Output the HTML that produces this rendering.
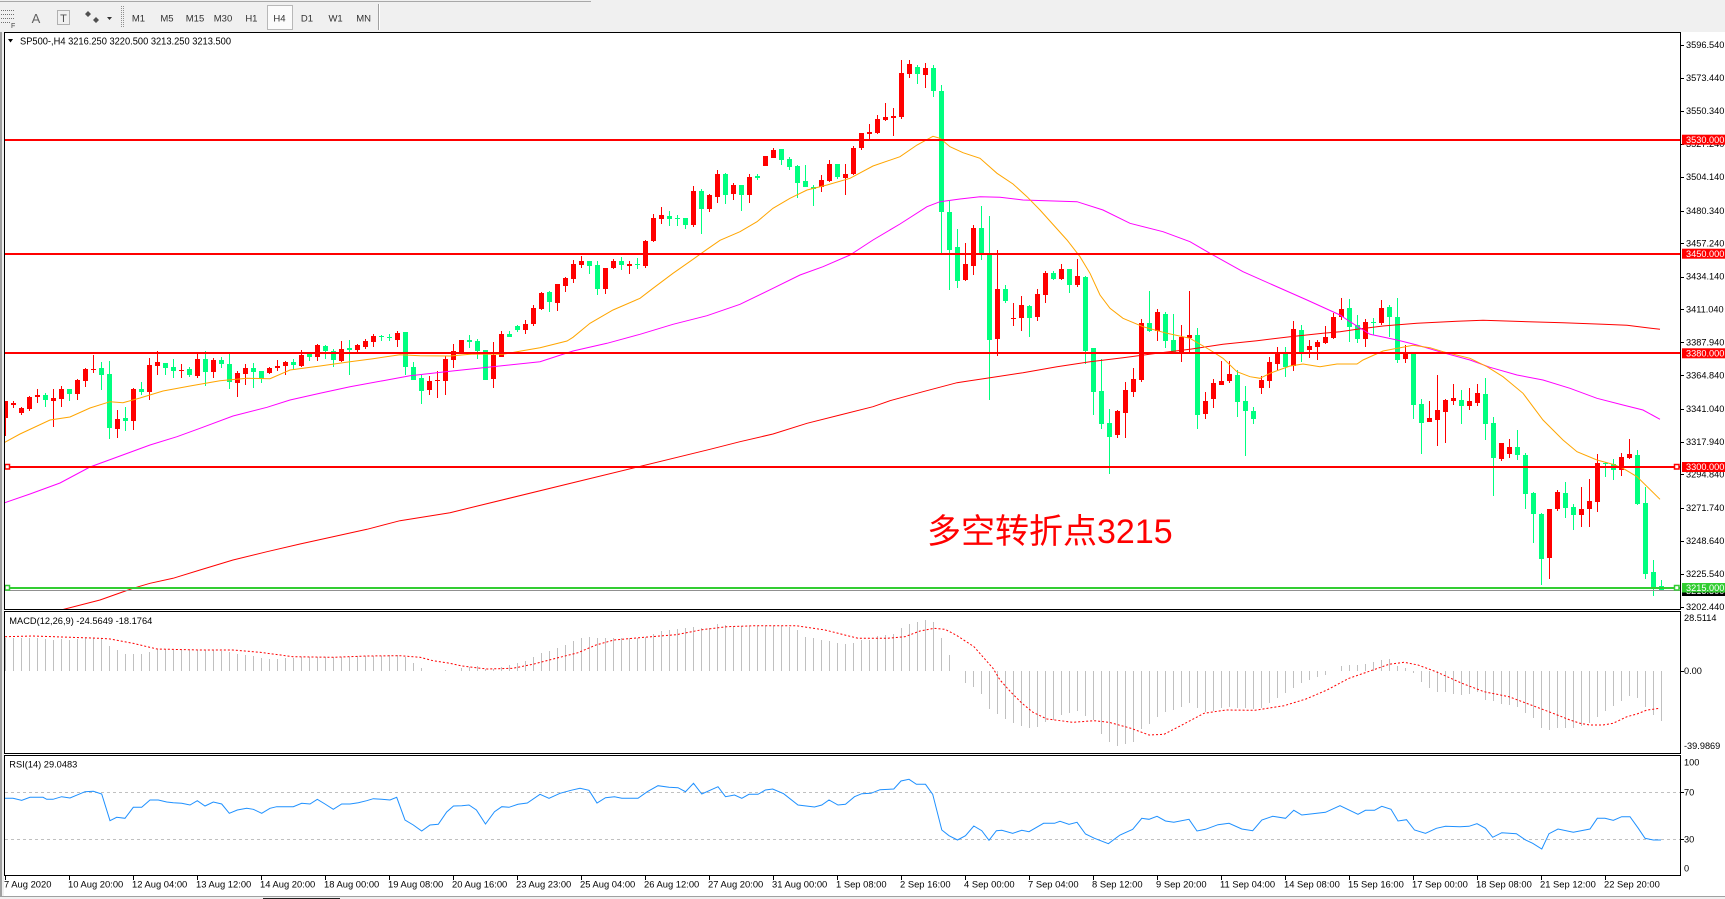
<!DOCTYPE html>
<html><head><meta charset="utf-8">
<style>
html,body{margin:0;padding:0;background:#fff;overflow:hidden;}
svg{display:block;}
text{font-family:"Liberation Sans","Noto Sans CJK SC",sans-serif;}
</style></head>
<body>
<svg id="s" width="1725" height="899" viewBox="0 0 1725 899" xmlns="http://www.w3.org/2000/svg">
<defs>
<clipPath id="cm"><rect x="5" y="33" width="1675" height="576"/></clipPath>
<clipPath id="cd"><rect x="5" y="612" width="1675" height="141"/></clipPath>
<clipPath id="cr"><rect x="5" y="756" width="1675" height="119"/></clipPath>
</defs>
<rect width="1725" height="899" fill="#fff"/>
<!-- toolbar -->
<rect x="0" y="0" width="1725" height="32" fill="#f0f0f0"/>
<line x1="0" y1="1.5" x2="591" y2="1.5" stroke="#a8a8a8"/>
<g stroke="#707070" stroke-dasharray="1 1">
<line x1="1" y1="10.5" x2="14" y2="10.5"/><line x1="1" y1="14.5" x2="14" y2="14.5"/>
<line x1="1" y1="18.5" x2="14" y2="18.5"/><line x1="1" y1="22.5" x2="10" y2="22.5"/>
</g>
<text x="11" y="28" font-size="7" fill="#444">F</text>
<text x="36" y="23" font-size="13" fill="#606060" text-anchor="middle">A</text>
<rect x="57.5" y="10.5" width="12" height="14" fill="none" stroke="#707070" stroke-dasharray="1 1"/>
<text x="63.5" y="22" font-size="11" fill="#505050" text-anchor="middle">T</text>
<path d="M88 11l3 3-3 3-3-3z M96 17l3 3-3 3-3-3z" fill="#505050"/>
<path d="M107 17h5l-2.5 3z" fill="#333"/>
<g stroke="#909090" stroke-dasharray="1 1"><line x1="121.5" y1="6" x2="121.5" y2="28"/><line x1="123.5" y1="6" x2="123.5" y2="28"/></g>
<rect x="267.5" y="5.5" width="25" height="24" fill="#fbfbfb" stroke="#b8b8b8"/>
<g font-size="9.5" fill="#303030" text-anchor="middle">
<text x="138.5" y="21.5">M1</text><text x="167" y="21.5">M5</text><text x="195" y="21.5">M15</text>
<text x="223" y="21.5">M30</text><text x="251.4" y="21.5">H1</text><text x="279.5" y="21.5">H4</text>
<text x="307" y="21.5">D1</text><text x="335.6" y="21.5">W1</text><text x="363.6" y="21.5">MN</text>
</g>
<line x1="378.5" y1="4" x2="378.5" y2="30" stroke="#a0a0a0"/>
<line x1="379.5" y1="4" x2="379.5" y2="30" stroke="#fff"/>
<!-- left frame -->
<rect x="0" y="32" width="2" height="867" fill="#a0a0a0"/>
<rect x="2" y="32" width="2" height="867" fill="#f0f0f0"/>

<!-- main panel content -->
<g id="candles" clip-path="url(#cm)"></g>
<g clip-path="url(#cm)" fill="none" stroke-width="1">
<polyline stroke="#ff0000" points="63,609.5 100,600 133,588.3 150,583.3 173,578.3 200,570 233,560 267,551.7 300,544 333,536.7 367,529.3 400,520.7 450,512.7 580,481 710,449.3 740,441.7 773,434 807,423.3 840,415 873,406.7 890,400.7 923,391.7 957,382.7 990,377.7 1023,372.7 1057,366.7 1090,361.7 1123,357.7 1157,353.3 1190,349.3 1223,344.3 1257,340.7 1290,336.7 1323,333.3 1340,331.7 1357,329.3 1383,326 1417,323.3 1457,321.3 1483,320.3 1537,322 1563,322.7 1603,324.3 1627,325.3 1660,329.3"/>
<polyline stroke="#ff00ff" points="4,503 30,494 60,483 90,467 120,456 150,445 177,436.7 200,428.3 233,416 267,407.3 290,400 320,393.3 350,386.7 383,380.7 410,375.7 450,371.3 540,361.7 573,351 607,343.3 640,334.3 673,324.3 707,315.7 740,304.3 773,288.3 800,275 823,266.7 850,255 873,240 900,224 927,206.7 940,201.7 960,199 980,196.7 1000,197.3 1023,200 1077,201.7 1103,210 1130,223.3 1163,231.7 1190,241.7 1210,253.3 1243,271.7 1273,285 1307,300 1340,315 1350,321.7 1370,334.3 1397,340 1417,345 1443,352.7 1470,360 1490,367.3 1517,375 1543,380 1570,388.3 1597,398.3 1623,405 1643,410 1660,419.3"/>
<polyline stroke="#ffa500" points="4,442.7 20,434 50,420 70,417 90,408 110,401.7 123,402.7 140,398 163,391 190,386 220,380.7 247,378.3 270,378.7 290,370 320,366 350,361.7 373,358.7 400,354.7 420,355.7 450,356 473,354 503,354.3 521,351 540,347.7 567,341 573,337.3 590,323.3 613,310 640,298.3 653,288.3 673,273.3 693,259.3 707,249.3 720,240.3 740,231.7 757,221.7 773,208.3 790,198.3 807,190 827,185 850,178.3 873,166 900,156.7 917,145 933,136.3 940,138.3 950,146.7 963,152.7 980,158.3 997,173.3 1013,184 1027,196.7 1040,210 1067,240 1080,256.7 1090,273.3 1100,295 1110,308.3 1123,318.3 1143,326.7 1167,333.3 1190,338.3 1210,350 1223,358.3 1237,371.7 1250,376.7 1260,378.3 1270,373.3 1290,366 1303,364 1320,366.7 1337,364 1357,364 1363,360 1383,351 1413,345.3 1430,347.7 1443,351.7 1470,358.3 1487,366.7 1503,376.7 1523,393.3 1543,420 1563,440 1577,451.7 1597,460 1613,464.3 1623,468.3 1637,476.7 1660,499.3"/>
</g>
<!-- horizontal lines -->
<rect x="5" y="139" width="1675" height="2" fill="#ff0000"/>
<rect x="5" y="253" width="1675" height="2" fill="#ff0000"/>
<rect x="5" y="352" width="1675" height="2" fill="#ff0000"/>
<rect x="5" y="466" width="1675" height="2" fill="#ff0000"/>
<rect x="5" y="590" width="1675" height="1" fill="#909090"/>
<rect x="5" y="587" width="1675" height="2" fill="#32cd32"/>
<rect x="5" y="464.5" width="4.5" height="4.5" fill="#fff" stroke="#ff0000" stroke-width="1.5"/>
<rect x="1674.5" y="464.5" width="4.5" height="4.5" fill="#fff" stroke="#ff0000" stroke-width="1.5"/>
<rect x="5" y="585.5" width="4.5" height="4.5" fill="#fff" stroke="#32cd32" stroke-width="1.5"/>
<rect x="1674.5" y="585.5" width="4.5" height="4.5" fill="#fff" stroke="#32cd32" stroke-width="1.5"/>

<!-- title -->
<polygon points="8,39 13,39 10.5,42.5" fill="#000"/>
<text x="20" y="44.5" font-size="10" textLength="211" lengthAdjust="spacingAndGlyphs" fill="#000">SP500-,H4  3216.250 3220.500 3213.250 3213.500</text>

<!-- annotation -->
<text x="927" y="543" font-size="34" fill="#ff0000" font-family="'Liberation Sans','Noto Sans CJK SC',sans-serif">多空转折点3215</text>

<!-- MACD -->
<g id="hist" clip-path="url(#cd)"></g>
<polyline clip-path="url(#cd)" fill="none" stroke="#ff0000" stroke-width="1" stroke-dasharray="2 2" points="5,636.7 33,636 100,638.3 110,639 133,643.3 157,649 200,650 233,650 260,652.3 293,656.7 333,657.3 367,656 400,655.7 420,657.3 433,660.7 450,663.3 462,666 487,669 513,668.3 534,664 556,658.3 578,652.7 596,645 614,640 644,637.3 676,634.7 702,629.7 727,626.7 756,625.7 796,625.7 825,630 858,638.3 887,638.3 905,636.7 920,631 934,628.3 945,629.3 956,635 974,646.7 993,668.3 1000,680 1011,692.3 1022,703.3 1033,712.3 1047,719 1073,722.3 1094,720.7 1109,722.3 1131,728.3 1149,735 1164,734.3 1182,725 1204,713.3 1226,710 1255,710.3 1284,705.7 1306,699 1327,690 1349,678.3 1371,670.7 1389,664.3 1404,662.3 1418,665 1436,671.7 1462,683.3 1484,691.7 1509,696.7 1531,705 1553,713.3 1570,720 1580,723.3 1590,725 1603,725 1613,723.3 1627,716.7 1637,714 1647,710 1660,708.3"/>
<text x="9.3" y="624" font-size="9.3" textLength="143" lengthAdjust="spacingAndGlyphs" fill="#000">MACD(12,26,9) -24.5649 -18.1764</text>

<!-- RSI -->
<line x1="5" y1="792.5" x2="1680" y2="792.5" stroke="#c0c0c0" stroke-dasharray="3 3"/>
<line x1="5" y1="839.5" x2="1680" y2="839.5" stroke="#c0c0c0" stroke-dasharray="3 3"/>
<polyline clip-path="url(#cr)" fill="none" stroke="#1e90ff" stroke-width="1" points="4.7,798.3 13,798.3 21.7,800.3 30,797.3 43,797.3 46.7,799.3 53,799.3 61.7,796.7 70,798 85,791.7 93.3,791.3 101.7,794 110,820.7 116.7,817.3 125,818.3 133.3,807.3 141.7,807.3 150,800 158.3,800 166.7,802 173.3,802.7 181.7,803.3 190,805 197.3,800.7 205,806 213.3,802 221.7,804 229.3,813.3 237.3,810 246.7,808.3 253.3,809.3 261.7,813.3 270,808.3 276.7,806.7 293.3,806.7 301.7,803.3 310,804 317.3,799.3 325,804 333.3,809.3 341.7,804 350,804 358.3,802.7 366.7,800.7 373.3,798.7 381.7,799.3 390,800 396.7,797.3 405,820 413.3,825 421.7,831 430,825 438.3,824.3 446.7,812 453.5,806 461.8,805.7 469,805 476.4,810 485.5,824 494.5,811.7 501.8,806.7 509,807.3 518,804.3 527.3,803 540,794.3 549,798.3 560,793.3 571,790.3 580,788.3 589,790.3 597,803 605.5,797.7 614.5,796.7 621.8,798.3 638,798.3 647.3,791.7 658,785.7 669,787.3 678,787.7 685.5,791.7 693.5,783.3 701.8,794 718,786.7 725.5,796.7 734.5,795 741.8,798.3 749,794.3 758,794.3 765.5,790 772.7,789 783.6,793.7 798,805 814.5,807 821.8,805 829,800 838,805 845.5,804.3 854.5,796.7 861.8,793.7 871,793.3 880,789.7 893.8,789 901,781 909,779.3 916.4,784.3 925.5,784.3 932.7,794.3 941.8,830 949,835.7 957.5,840 965.5,835.7 973.8,826 981.8,830.7 989,840.3 996.4,830.7 1001.8,830.3 1012.7,833.3 1021.8,830.3 1029,831.7 1043.6,823.3 1054.5,823.3 1060,821.3 1069,824.3 1077,822.3 1085.5,834 1094.5,838.3 1108.4,843.7 1120,835 1132.7,829.3 1141.8,818.3 1149,819.3 1157,816.3 1165.5,821 1173.8,822.3 1189,819.3 1197,831 1205.5,829.3 1218,824.7 1229,823.3 1241.8,829 1252.7,830.7 1261.8,820 1272.7,816.3 1285.5,818.3 1293.8,810.3 1301.8,815 1312.7,813.7 1325.5,812.3 1340,805.7 1358,814.3 1365.5,810.3 1374.5,810.3 1381.8,806.3 1391,809.3 1398,821 1406.5,819.7 1414.5,830 1425.5,833.3 1436.4,828.3 1445.5,826.3 1460,826.7 1469,826.3 1477,823.7 1485.5,828.3 1492.7,837.3 1501.8,832.7 1516.4,833.7 1525.5,840 1532.7,843.3 1541.8,849 1549,833.7 1558,829 1573.3,832.3 1590,829 1597.3,818.3 1605,818.3 1613.3,820.3 1621.7,816.7 1630,816.7 1638.3,828.3 1645,838.3 1653.3,840 1661,840"/>
<text x="9.3" y="767.6" font-size="9.3" textLength="68" lengthAdjust="spacingAndGlyphs" fill="#000">RSI(14) 29.0483</text>

<!-- panel borders -->
<g fill="none" stroke="#000" stroke-width="1" shape-rendering="crispEdges">
<rect x="4.5" y="32.5" width="1676" height="577"/>
<rect x="4.5" y="611.5" width="1676" height="142"/>
<rect x="4.5" y="755.5" width="1676" height="120"/>
</g>
<g id="ticks" fill="#000" shape-rendering="crispEdges"></g>

<!-- price axis labels -->
<g font-size="9.2" fill="#000">
<text x="1686" y="48.2">3596.540</text>
<text x="1686" y="81.1">3573.440</text>
<text x="1686" y="114">3550.340</text>
<text x="1686" y="147">3527.240</text>
<text x="1686" y="179.9">3504.140</text>
<text x="1686" y="213.8">3480.340</text>
<text x="1686" y="246.3">3457.240</text>
<text x="1686" y="279.7">3434.140</text>
<text x="1686" y="312.6">3411.040</text>
<text x="1686" y="345.5">3387.940</text>
<text x="1686" y="378.4">3364.840</text>
<text x="1686" y="412">3341.040</text>
<text x="1686" y="444.8">3317.940</text>
<text x="1686" y="477.6">3294.840</text>
<text x="1686" y="511.1">3271.740</text>
<text x="1686" y="544">3248.640</text>
<text x="1686" y="577">3225.540</text>
<text x="1686" y="609.9">3202.440</text>
</g>
<g font-size="9.2">
<rect x="1682" y="134.7" width="43" height="10" fill="#ff0000"/><text x="1686" y="142.9" fill="#fff">3530.000</text>
<rect x="1682" y="248.7" width="43" height="10" fill="#ff0000"/><text x="1686" y="256.9" fill="#fff">3450.000</text>
<rect x="1682" y="348.3" width="43" height="10" fill="#ff0000"/><text x="1686" y="356.4" fill="#fff">3380.000</text>
<rect x="1682" y="462" width="43" height="10" fill="#ff0000"/><text x="1686" y="470.1" fill="#fff">3300.000</text>
<rect x="1682" y="586" width="43" height="10" fill="#000"/><text x="1686" y="594.2" fill="#fff">3213.500</text>
<rect x="1682" y="583" width="43" height="9.5" fill="#32cd32"/><text x="1686" y="591" fill="#fff">3215.000</text>
</g>
<g font-size="9.2" fill="#000">
<text x="1684" y="621.2">28.5114</text>
<text x="1684" y="674.2">0.00</text>
<text x="1684" y="749.2">-39.9869</text>
<text x="1684" y="765.5">100</text>
<text x="1684" y="795.5">70</text>
<text x="1684" y="842.5">30</text>
<text x="1684" y="871.5">0</text>
</g>

<!-- time axis labels -->
<g font-size="9.4" fill="#000">
<text x="4" y="887.6">7 Aug 2020</text>
<text x="68" y="887.6">10 Aug 20:00</text>
<text x="132" y="887.6">12 Aug 04:00</text>
<text x="196" y="887.6">13 Aug 12:00</text>
<text x="260" y="887.6">14 Aug 20:00</text>
<text x="324" y="887.6">18 Aug 00:00</text>
<text x="388" y="887.6">19 Aug 08:00</text>
<text x="452" y="887.6">20 Aug 16:00</text>
<text x="516" y="887.6">23 Aug 23:00</text>
<text x="580" y="887.6">25 Aug 04:00</text>
<text x="644" y="887.6">26 Aug 12:00</text>
<text x="708" y="887.6">27 Aug 20:00</text>
<text x="772" y="887.6">31 Aug 00:00</text>
<text x="836" y="887.6">1 Sep 08:00</text>
<text x="900" y="887.6">2 Sep 16:00</text>
<text x="964" y="887.6">4 Sep 00:00</text>
<text x="1028" y="887.6">7 Sep 04:00</text>
<text x="1092" y="887.6">8 Sep 12:00</text>
<text x="1156" y="887.6">9 Sep 20:00</text>
<text x="1220" y="887.6">11 Sep 04:00</text>
<text x="1284" y="887.6">14 Sep 08:00</text>
<text x="1348" y="887.6">15 Sep 16:00</text>
<text x="1412" y="887.6">17 Sep 00:00</text>
<text x="1476" y="887.6">18 Sep 08:00</text>
<text x="1540" y="887.6">21 Sep 12:00</text>
<text x="1604" y="887.6">22 Sep 20:00</text>
</g>
<!-- bottom strip -->
<rect x="0" y="896" width="1725" height="1" fill="#a0a0a0"/>
<rect x="0" y="897" width="1725" height="2" fill="#f0f0f0"/>
<rect x="263" y="898" width="77" height="1" fill="#202020"/>
</svg>
<script>
(function(){
var NS="http://www.w3.org/2000/svg";
function add(p,tag,a){var e=document.createElementNS(NS,tag);for(var k in a)e.setAttribute(k,a[k]);p.appendChild(e);return e;}
var S="r 401 401 418 436|r 401 402.7 404.7 407.7|r 407 408 413.3 414.7|r 395.7 397 409 410.7|r 389.3 395 396.7 403.3|g 392.7 395.3 399.7 406.7|r 389.3 398 400.7 426.7|r 386 389.3 398.7 406.7|g 389.3 389.3 393.7 400.7|r 378.7 380 393.7 399.7|"+
"r 367.7 369 380.7 386.7|r 355 368.7 370 372.7|g 361.7 367.7 374.7 389.7|g 361 374 427.7 439.3|r 410 419.3 428.7 437.7|g 407 418 420.7 430.7|r 387.7 389 420.7 429.7|g 382 389.3 391.7 395.3|r 358.3 365 391.7 399.7|r 351 362.3 365.7 375|"+
"g 363.3 363.3 367.7 375|g 359 367.3 370.7 377.7|r 364.3 369.7 370.3 378|g 366.7 369.3 374.7 376.7|r 353.3 359 375.7 378.3|g 351 359 371.7 385.7|r 358 360 371.7 377.7|g 357 360 364.3 367.7|g 353.3 364 381.7 388.7|r 371 373 382.7 396.7|"+
"r 364 368 373.7 384.7|g 363 368 372 387.7|g 371 371 379.3 382.7|r 367 368 372.7 373.7|r 360 366 367.7 371.3|r 361.3 362 365.7 375.3|g 359 362 364.7 369.7|r 350 355 365.7 366.7|g 353.3 353.3 356.7 360.7|r 344 345 357 360.7|"+
"g 345 346 351 359|g 349 351 359.7 366.7|r 341 349 360.7 362|g 340 348.3 349.7 374.7|r 344 345 349.7 352|r 339 341 347 349|r 334 336 341.7 346.7|g 335 336 337.3 341|g 334 336.7 338.3 341|r 331 333 339.7 346.7|"+
"g 331.7 332.3 366.7 375|g 362 367 380 380|g 375.3 378 391 403.7|r 375.7 381 390 395|r 371 380 381.3 397.7|r 356 359 380.7 394.7|r 344 351 359.7 368.3|r 340 340 354 354|g 335 340 342 347.7|g 339 341 351 359|"+
"g 350 350 380 380|r 342 355.3 379 387.7|r 331 334 356.7 356.7|g 331 334 337 337|g 325 326 330 332|r 320 324 330 334|r 305 308 324 326|r 292 293 309 310|g 291 292 302 312|r 284 284 303 311|"+
"r 277 278 286 292|r 260 264 279 283|r 256 261 265 268|g 261 261 266 274|g 261 265 289 295|r 268 268 289 294|r 259 261 268 269|g 257 261 265 270|r 261 264 266 274|g 258 264 265 269|"+
"r 240 241 266.3 268|r 214 218 241 242|r 207 215 219 224|g 211 216 219 226|g 215 217.7 218.7 226|g 218 218 224.7 229|r 186 191 225 227|g 189 191 209 234|r 194 195 209 212|r 170 174 197 203|"+
"g 173 174 195 204|r 183 185 194 200|g 185 185 195 211|r 174 177 195 203|g 174 176 178 180|r 156 156 166 166|r 148 150 158 158|g 149 149 160 165|g 157 159 167 170|g 165 166 183 198|"+
"g 165 181 187 187|g 185 187 188.7 206|r 175 180 187 192|r 160 164 181 182|g 164 164 177 179|r 164 174 178 195|r 146 148 174 175|r 133 133 148 150|r 124 132 134 140|r 115 119 133 134|"+
"r 103 117 120 121|r 108 116 118 136|r 60 73 117 119|r 60 64 74 78|g 65 67 74 84|r 63 68 75 88|g 65 68 91 97|g 85 91 212 253|g 201 212 250 290|g 229 247 281 288|"+
"r 243 264 280 281|r 225 228 266 275|g 206 228 253 260|g 216 253.7 340 400|r 250 289 339 356|g 285 289 301 303|r 303 318.3 319.3 326|r 296 305 318 331|g 305 306 318 337|r 289 294 317 321|"+
"r 271 273 295 303|g 271 273 279 280|r 264 269 279 280|g 269 269 285 293|r 259 276 285 287|g 276 277 351 364|g 348 348 392 415|g 359 391 424 429|g 409 423 437 474|r 410 411 435 438|"+
"r 382 390 413 438|r 368 379 392 397|r 319 323 380 382|g 291 323 331 332|r 309 312 331 341|g 312 314 341 348|g 314 340 352 352|r 325 337 352 362|r 291 335 338 352|g 328 335 415 429|"+
"r 392 401 414 419|r 379 383 399 408|r 361 381 385 385|r 361 374 381 383|g 370 375 402 417|g 386 401 411 456|g 407 411 419 424|r 376 380 388 394|r 357 362 381 388|r 347 352 364 370|"+
"g 347 352 367 377|r 321 329 366 371|g 325 330 352 362|r 340 346 350 358|r 340 342 347 360|r 326 337 343 344|r 313 317 338 339|r 298 309 317 320|g 299 308 327 342|g 315 325 339 343|"+
"r 319 322 339 347|g 318 322 323 335|r 300 308 323 325|g 305 307 317 337|g 298 317 360 363|r 345 352 359 363|g 352 353 405 419|g 399 404 423 454|r 401 418 422 422|r 375 410 420 446|"+
"r 399 400 412 443|r 384 398 401 405|g 390 400 406 424|r 388 401 406 410|r 384 393 403 406|g 378 394 424 440|g 417 423 458 496|r 443 443 459 461|r 439 447 454 458|g 430 447 455 460|"+
"g 453 455 494 509|g 492 493 514 543|g 513 514 559 585|r 509 509 558 579|r 490 492 509 511|g 482 493 508 518|g 504 507 515 530|r 487 509 515 527|r 479 501 509 527|r 454 463 502 512|"+
"g 462 463 464 477|g 459 464 470 480|r 453 457 470 476|r 439 454 458 459|g 450 455 504 505|g 487 503 574 579|g 560 572 587 596|g 580 586 590 591";
var bars=S.split("|"),pr="",pg="";
for(var i=0;i<bars.length;i++){
 var a=bars[i].split(" "),c=a[0],hi=Math.round(+a[1]),t=Math.round(+a[2]),b=Math.round(+a[3]),lo=Math.round(+a[4]);
 var x=3+8*i,wx=5+8*i,bh=Math.max(1,b-t),wh=Math.max(1,lo-hi);
 var d="M"+wx+" "+hi+"h1v"+wh+"h-1z M"+x+" "+t+"h5v"+bh+"h-5z ";
 if(c==="r")pr+=d;else pg+=d;
}
var gc=document.getElementById("candles");
add(gc,"path",{d:pg,fill:"#00ff7f","shape-rendering":"crispEdges"});
add(gc,"path",{d:pr,fill:"#ff0000","shape-rendering":"crispEdges"});
var H=[637.7,637.7,637.7,637.7,638.3,639,639.7,639,640.3,639,638.3,638.3,638.3,645.7,649.7,653.7,653.7,654.3,651.7,649.3,649.3,650,650,650,650,650,650,650.7,651.7,654.3,655,656,658.3,658.7,659,658.3,657.7,657.3,657.3,657.3,657.3,657.3,657.3,656.7,656,656,655.7,655.7,655,655,657.3,662.7,667.7,670.7,670.7,670,671,668.3,667,666.3,669,669,667.3,665.3,663,661,657,653.3,651,648,645,641,637.7,637.3,638,638,637.7,638,638,638,637.3,634,631,630,629,628.3,627.3,627.7,627.7,624.3,625,626.3,626.3,626.3,625.7,625.7,625.7,625.7,627.3,629.7,637.3,638,640,641,643.3,644.3,643,639.7,639.7,636,635,634,628.3,624,622.3,620,621.7,638,655,671,682.7,686.7,693.7,708.7,714,718.7,723.3,725.7,728.3,726.7,722.3,720,715,713.3,711,715.7,720,734.3,742.3,745.7,744.3,741.7,729,724.3,716.7,712.3,710.3,706.7,703.3,708.3,711.7,711,708.3,707.3,708.3,708.3,709.3,708.3,702.7,697.7,693.3,687.7,683.3,680,677,675,671.3,666,665,665,663.7,662.3,660,659,666,668.3,672.7,681.7,687.7,692.3,692.3,694,695,694,692.3,700,700.7,704,705.3,706.7,712.7,718.3,727.7,730,727.7,727.7,727.7,725.7,723.3,716.7,710.7,706,700.7,696,697.7,706.7,715,720.7];
var ph="";
for(var j=0;j<H.length;j++){
 var v=Math.round(H[j]),z=671,top=Math.min(v,z),hh=Math.abs(v-z);
 if(hh<1)continue;
 ph+="M"+(5+8*j)+" "+top+"h1v"+hh+"h-1z ";
}
add(document.getElementById("hist"),"path",{d:ph,fill:"#c0c0c0","shape-rendering":"crispEdges"});
var gt=document.getElementById("ticks");
var pt="";
for(var k=0;k<26;k++){pt+="M"+(5+64*k)+" 876h1v4h-1z ";}
var ys=[45,77.9,110.8,143.8,176.7,210.6,243,276.5,309.4,342.3,375.2,408.8,441.6,474.4,507.9,540.8,573.8,606.7,671,792,839];
for(var m=0;m<ys.length;m++){pt+="M1681 "+Math.round(ys[m])+"h3v1h-3z ";}
add(gt,"path",{d:pt});
})();
</script>
</body></html>
